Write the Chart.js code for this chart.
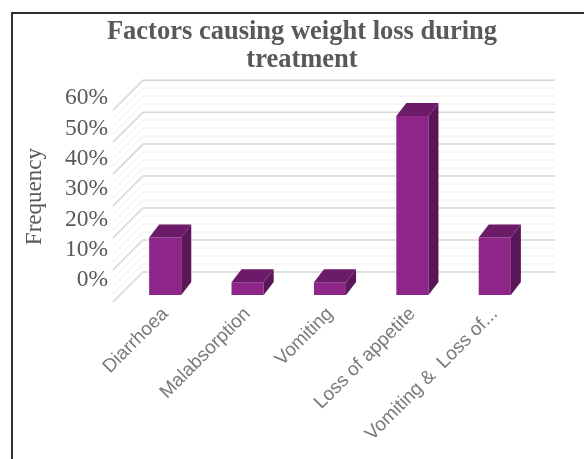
<!DOCTYPE html>
<html>
<head>
<meta charset="utf-8">
<script src="https://cdn.jsdelivr.net/npm/chart.js@4.4.1/dist/chart.umd.min.js"></script>
<style>
  html, body { margin: 0; padding: 0; background: #fff; }
  #wrap { position: relative; width: 584px; height: 459px; overflow: hidden; }
  #frame { position: absolute; left: 11px; top: 12px; width: 600px; height: 460px;
           border-left: 2px solid #2e2e2e; border-top: 2px solid #2e2e2e; pointer-events: none; }
</style>
</head>
<body>
<div id="wrap">
  <canvas id="myChart" width="584" height="459"></canvas>
  <div id="frame"></div>
</div>
<script>
const categories = ['Diarrhoea', 'Malabsorption', 'Vomiting', 'Loss of appetite', 'Vomiting &  Loss of...'];
const frequency = [18, 4, 4, 56, 18];
const tickValues = [0, 10, 20, 30, 40, 50, 60];

// fake 3d: back wall sits up/right of the front plane
const wall = { dx: 19, dy: -23, sideX: 30, sideY: 30 };
const depth = { dx: 10, dy: -13 };

const wallPlugin = {
  id: 'wall3d',
  beforeDatasetsDraw(chart) {
    const { ctx, chartArea } = chart;
    const yb = chart.scales.yb;
    ctx.save();
    for (let v = 0; v <= 60; v += 2.5) {
      const major = v % 10 === 0;
      const y = yb.getPixelForValue(v) + wall.dy;
      const x0 = chartArea.left + wall.dx;
      const x1 = chartArea.right + wall.dx;
      ctx.strokeStyle = major ? '#d6d6d6' : '#efefef';
      ctx.lineWidth = major ? 1.5 : 1;
      ctx.beginPath();
      ctx.moveTo(x0 - wall.sideX, y + wall.sideY);
      ctx.lineTo(x0, y);
      ctx.lineTo(x1, y);
      ctx.stroke();
    }
    ctx.restore();
  },
  afterDatasetsDraw(chart) {
    const { ctx } = chart;
    const meta = chart.getDatasetMeta(0);
    ctx.save();
    meta.data.forEach((bar) => {
      const l = bar.x - bar.width / 2;
      const r = bar.x + bar.width / 2;
      const t = bar.y;
      const b = bar.base;
      ctx.fillStyle = '#6c1b69';
      ctx.beginPath();
      ctx.moveTo(l, t);
      ctx.lineTo(l + depth.dx, t + depth.dy);
      ctx.lineTo(r + depth.dx, t + depth.dy);
      ctx.lineTo(r, t);
      ctx.closePath();
      ctx.fill();
      ctx.fillStyle = '#5a1657';
      ctx.beginPath();
      ctx.moveTo(r, t);
      ctx.lineTo(r + depth.dx, t + depth.dy);
      ctx.lineTo(r + depth.dx, b + depth.dy);
      ctx.lineTo(r, b);
      ctx.closePath();
      ctx.fill();
    });
    ctx.restore();
  }
};

const ctx = document.getElementById('myChart');

new Chart(ctx, {
  type: 'bar',
  data: {
    labels: categories,
    datasets: [{
      label: 'Frequency',
      data: frequency,
      yAxisID: 'yb',
      backgroundColor: '#8e2689',
      borderWidth: 0,
      barPercentage: 0.39,
      categoryPercentage: 1
    }]
  },
  options: {
    responsive: false,
    devicePixelRatio: 1,
    animation: false,
    layout: { padding: { left: 20, right: 0, top: 0, bottom: 0 } },
    plugins: {
      legend: { display: false },
      tooltip: { enabled: false },
      title: {
        display: true,
        text: ['Factors causing weight loss during', 'treatment'],
        color: '#595959',
        font: { family: 'Liberation Serif', size: 26.5, weight: 'bold', lineHeight: 1.06 },
        padding: { top: 18, bottom: 24 }
      }
    },
    scales: {
      x: {
        grid: { display: false },
        border: { display: false },
        ticks: {
          color: '#7a7a7a',
          font: { family: 'Liberation Sans', size: 19 },
          minRotation: 45,
          maxRotation: 45,
          autoSkip: false,
          padding: 0
        },
        afterFit: (s) => { s.height = 164; }
      },
      yl: {
        position: 'left',
        min: -4.95,
        max: 60,
        grid: { display: false },
        border: { display: false },
        ticks: {
          stepSize: 10,
          includeBounds: false,
          color: '#595959',
          padding: 8,
          font: { family: 'Liberation Serif', size: 23.5 },
          callback: (v) => tickValues.includes(v) ? v + '%' : ''
        },
        title: {
          display: true,
          text: 'Frequency',
          color: '#595959',
          font: { family: 'Liberation Serif', size: 23 },
          padding: { top: 1, bottom: 0 }
        },
        afterFit: (s) => { s.width = 104; }
      },
      yb: {
        display: false,
        min: 0,
        max: 61.56
      },
      yr: {
        position: 'right',
        grid: { display: false },
        border: { display: false },
        ticks: { display: false },
        afterFit: (s) => { s.width = 48; }
      }
    }
  },
  plugins: [wallPlugin]
});
</script>
</body>
</html>
